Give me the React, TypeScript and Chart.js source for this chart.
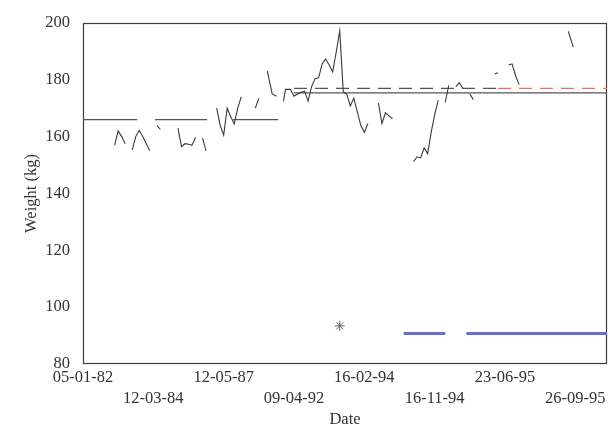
import React, { useEffect, useRef } from "react";
import { Chart, registerables } from "chart.js";

Chart.register(...registerables);

// x positions are sample indices along the date axis (0 .. 149)
const X_MAX = 149;
const tickPositions = [0, 20, 40, 60, 80, 100, 120, 140];
const tickLabels = [
  "05-01-82",
  "12-03-84",
  "12-05-87",
  "09-04-92",
  "16-02-94",
  "16-11-94",
  "23-06-95",
  "26-09-95",
];
const yTicks = [80, 100, 120, 140, 160, 180, 200];

// weight readings; null values break the line
const weightReadings: [number, number | null][] = [
  [9, 157], [10, 162], [11, 160], [12, 157.5], [13, null],
  [14, 155.3], [15, 160], [16, 162.2], [17, 160], [18, 157.5], [19, 155], [20, null],
  [21, 164], [22, 162.5], [24, null],
  [27, 163], [28, 156.5], [29, 157.5], [30, 157.3], [31, 157], [32, 159.8], [33, null],
  [34, 159.5], [35, 155], [36, null],
  [38, 170], [39, 164], [40, 160.5], [41, 170], [42, 167], [43, 164.5], [44, 170], [45, 174], [47, null],
  [49, 170], [50, 173.5], [51, null],
  [52.4, 183], [53.8, 175], [55, 174.2], [56, null],
  [57, 172.5], [57.6, 176.6], [59, 176.6], [60, 174.2], [61, 175], [62, 175.6], [63, 176], [64, 172.5],
  [65, 177.6], [66, 180.4], [67, 180.7], [68, 185.6], [69, 187.3], [70, 185.2], [71, 182.8], [72, 189.7],
  [73, 197.2], [74, 175.9], [75, 174.9], [76, 170.8], [77, 173.5], [78, 168.7], [79, 163.9], [80, 161.5],
  [81, 164.6], [82.5, null],
  [84, 171.8], [85, 164.6], [86, 168.4], [87, 167.3], [88, 166.3], [90, null],
  [94, 151.2], [95, 152.9], [96, 152.5], [97, 156], [98, 154], [99, 161.5], [100, 167.7], [101, 172.8], [102, null],
  [103, 172], [104, 178], [105, null],
  [106, 177.5], [107, 179], [108, 177], [109, null],
  [110, 175], [111, 173], [114, null],
  [117, 182], [118, 182.5], [119.5, null],
  [121, 185.2], [122, 185.6], [123, 181.5], [124, 178.3], [130, null],
  [138, 197], [139.4, 191.5],
];

// earlier mean level (solid, broken)
const meanEarly: [number, number | null][] = [
  [0, 166], [15.4, 166], [18, null],
  [20.5, 166], [35.3, 166], [39, null],
  [42.7, 166], [55.5, 166],
];
// later mean level (solid)
const meanLate: [number, number][] = [[60, 175.4], [X_MAX, 175.4]];
// later reference level (dashed)
const refLate: [number, number][] = [[60, 177], [118, 177], [X_MAX, 177]];
const refColorChangeAt = 118;
// treatment period (blue bar)
const treatment: [number, number | null][] = [
  [91.2, 90.7], [103, 90.7], [106, null], [109, 90.7], [X_MAX, 90.7],
];
// single event marker
const eventMarker: [number, number][] = [[73, 93.4]];

const toPts = (arr: [number, number | null][]) => arr.map(([x, y]) => ({ x, y }));

const framePlugin = {
  id: "frame",
  beforeDatasetsDraw(chart: any) {
    const { ctx, chartArea } = chart;
    const l = Math.round(chartArea.left) + 0.5;
    const t = Math.round(chartArea.top) + 0.5;
    const r = Math.round(chartArea.right) - 0.5;
    const b = Math.round(chartArea.bottom) - 0.5;
    ctx.save();
    ctx.strokeStyle = "#3c3c3c";
    ctx.lineWidth = 1.2;
    ctx.strokeRect(l, t, r - l, b - t);
    ctx.restore();
  },
};

export default function App() {
  const ref = useRef<HTMLCanvasElement | null>(null);

  useEffect(() => {
    if (!ref.current) return;
    const font = { family: "'Liberation Serif', 'Times New Roman', serif", size: 16.5 };
    const chart = new Chart(ref.current, {
      type: "line",
      data: {
        datasets: [
          {
            data: toPts(weightReadings) as any,
            borderColor: "#3a3a3a",
            borderWidth: 1.1,
            pointRadius: 0,
            spanGaps: false,
            tension: 0,
          },
          {
            data: toPts(meanEarly) as any,
            borderColor: "#555555",
            borderWidth: 1.2,
            pointRadius: 0,
            spanGaps: false,
          },
          {
            data: toPts(meanLate) as any,
            borderColor: "#555555",
            borderWidth: 1.2,
            pointRadius: 0,
          },
          {
            data: toPts(refLate) as any,
            borderColor: "#555555",
            borderWidth: 1.2,
            borderDash: [13, 8],
            pointRadius: 0,
            segment: {
              borderColor: (c: any) =>
                c.p0.parsed.x >= refColorChangeAt ? "#d07a7a" : "#555555",
            },
          },
          {
            data: toPts(treatment) as any,
            borderColor: "#6a6fc4",
            borderWidth: 3,
            borderCapStyle: "butt",
            pointRadius: 0,
            spanGaps: false,
          },
          {
            data: toPts(eventMarker) as any,
            showLine: false,
            pointStyle: "star",
            pointRadius: 5,
            pointBorderColor: "#666666",
            pointBorderWidth: 1,
          },
        ],
      },
      options: {
        responsive: true,
        maintainAspectRatio: false,
        animation: false,
        layout: { padding: { top: 15, right: 7, left: 0, bottom: 0 } },
        plugins: {
          legend: { display: false },
          tooltip: { enabled: false },
        },
        scales: {
          x: {
            type: "linear",
            min: 0,
            max: X_MAX,
            grid: { display: false, drawTicks: false },
            border: { display: false },
            afterBuildTicks: (s: any) => {
              s.ticks = tickPositions.map((v) => ({ value: v }));
            },
            afterFit: (s: any) => {
              s.height = 68;
            },
            ticks: {
              autoSkip: false,
              maxRotation: 0,
              minRotation: 0,
              padding: 3,
              color: "#333",
              font: { ...font, lineHeight: 1.27 },
              callback: (v: any) => {
                const i = tickPositions.indexOf(Number(v));
                if (i < 0) return "";
                return i % 2 === 1 ? ["", tickLabels[i]] : tickLabels[i];
              },
            },
            title: {
              display: true,
              text: "Date",
              color: "#333",
              font: { ...font, lineHeight: 1.2 },
              padding: { top: 0, bottom: 2 },
            },
          },
          y: {
            min: 80,
            max: 200,
            grid: { display: false, drawTicks: false },
            border: { display: false },
            afterBuildTicks: (s: any) => {
              s.ticks = yTicks.map((v) => ({ value: v }));
            },
            afterFit: (s: any) => {
              s.width = 83;
            },
            ticks: {
              padding: 13,
              color: "#333",
              font,
            },
            title: {
              display: true,
              text: "Weight (kg)",
              color: "#333",
              font: { ...font, lineHeight: 1.2 },
              padding: { top: 22, bottom: 0 },
            },
          },
        },
      },
      plugins: [framePlugin],
    });
    return () => chart.destroy();
  }, []);

  return (
    <div style={{ position: "absolute", left: 0, top: 0, width: 614, height: 432, background: "#fff" }}>
      <canvas ref={ref} />
    </div>
  );
}
